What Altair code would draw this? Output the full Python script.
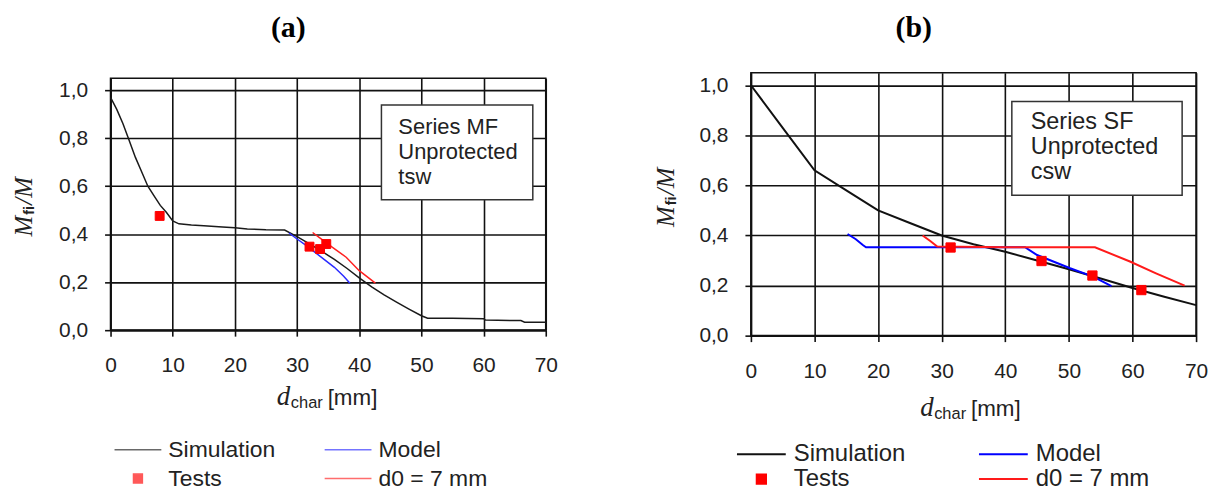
import altair as alt
import pandas as pd

# legend order (filled column by column): Simulation, Tests | Model, d0 = 7 mm
SERIES = ["Simulation", "Tests", "Model", "d0 = 7 mm"]

# ---------------- panel (a) data ----------------
A_SIM_X = [0, 1, 2, 3, 4, 5, 6, 7, 8, 9, 10, 11, 13, 15, 18, 20, 22, 25, 28, 30, 32, 34, 36, 38, 40,
           42, 44, 46, 48, 50, 51, 55, 60, 60.3, 66, 66.6, 70]
A_SIM_Y = [0.97, 0.92, 0.86, 0.79, 0.72, 0.66, 0.60, 0.56, 0.52, 0.49, 0.455, 0.443, 0.438, 0.435, 0.43,
           0.427, 0.422, 0.418, 0.417, 0.39, 0.36, 0.328, 0.295, 0.258, 0.218, 0.18, 0.147, 0.117, 0.088,
           0.06, 0.05, 0.05, 0.048, 0.042, 0.04, 0.033, 0.033]
A_MOD_X = [28.7, 30, 31.5, 33, 34.5, 36, 37.5, 38.5]
A_MOD_Y = [0.405, 0.38, 0.352, 0.322, 0.292, 0.262, 0.225, 0.196]
A_RED_X = [32.5, 33.6, 35.7, 37.9, 40, 42.6]
A_RED_Y = [0.407, 0.386, 0.345, 0.304, 0.248, 0.196]
A_TST_X = [7.9, 32.0, 33.7, 34.7]
A_TST_Y = [0.476, 0.348, 0.338, 0.359]

# ---------------- panel (b) data ----------------
B_SIM_X = [0, 5, 10, 15, 20, 25, 30, 35, 40, 45, 50, 55, 60, 65, 70]
B_SIM_Y = [1.0, 0.83, 0.66, 0.58, 0.50, 0.45, 0.40, 0.365, 0.335, 0.30, 0.265, 0.228, 0.19, 0.155, 0.122]
B_MOD_X = [15.2, 16.5, 17.6, 18.1, 30, 43.1, 45, 50.2, 53.8, 56.7]
B_MOD_Y = [0.406, 0.385, 0.362, 0.353, 0.353, 0.353, 0.322, 0.269, 0.236, 0.198]
B_RED_X = [27, 28.2, 29.3, 40, 54.1, 59.6, 63.7, 68.2]
B_RED_Y = [0.4, 0.378, 0.356, 0.353, 0.353, 0.296, 0.249, 0.2]
B_TST_X = [31.4, 45.7, 53.7, 61.4]
B_TST_Y = [0.352, 0.298, 0.24, 0.182]

X_TICKS = list(range(0, 71, 5))
Y_TICKS = [round(i * 0.1, 1) for i in range(11)]

SANS = "Liberation Sans"
SERIF = "Liberation Serif"
INK = "#111111"
TXT = "#222222"
SQUARE = "M-0.19,-0.19H0.19V0.19H-0.19Z"


def txt_layer(label, **mk):
    return alt.Chart(pd.DataFrame({"t": [label]})).mark_text(**mk).encode(text="t:N")


def make_panel(p):
    W, H = p["W"], p["H"]
    frames = []
    for xs, ys, name in [(p["sim_x"], p["sim_y"], "Simulation"),
                         (p["mod_x"], p["mod_y"], "Model"),
                         (p["red_x"], p["red_y"], "d0 = 7 mm")]:
        frames.append(pd.DataFrame({"x": xs, "y": ys, "series": name}))
    lines = pd.concat(frames, ignore_index=True)
    lines["i"] = range(len(lines))
    tests = pd.DataFrame({"x": p["tst_x"], "y": p["tst_y"], "series": "Tests"})

    xscale = alt.Scale(domain=[0, 70], nice=False, zero=False)
    yscale = alt.Scale(domain=[0, 1.05], nice=False)
    xaxis = alt.Axis(values=X_TICKS, title=None,
                     labelExpr="datum.value % 10 === 0 ? format(datum.value, 'd') : ''",
                     gridOpacity={"condition": {"test": "datum.value % 10 === 0", "value": 1}, "value": 0},
                     labelFont=SANS, labelFontSize=p["tick_fs"], labelColor=TXT,
                     labelPadding=p["xpad"], tickSize=6, labelFlush=False, labelOverlap=False)
    yaxis = alt.Axis(values=Y_TICKS, title=None,
                     labelExpr="round(datum.value * 10) % 2 === 0 ? replace(format(datum.value, '.1f'), '.', ',') : ''",
                     gridOpacity={"condition": {"test": "round(datum.value * 10) % 2 === 0", "value": 1}, "value": 0},
                     labelFont=SANS, labelFontSize=p["tick_fs"], labelColor=TXT,
                     labelPadding=p["ypad"], tickSize=6, labelFlush=False, labelOverlap=False)

    legend = alt.Legend(
        title=None, orient="none", legendX=p["legX"], legendY=p["legY"], columns=2,
        symbolSize=p["sym"] ** 2, clipHeight=20, symbolOpacity=p["leg_op"],
        rowPadding=p["rowpad"], columnPadding=p["colpad"], labelOffset=p["laboff"],
        labelFont=SANS, labelFontSize=p["leg_fs"], labelColor=TXT, symbolStrokeWidth=p["lw"],
    )
    stroke_scale = alt.Scale(domain=SERIES, range=p["colors"])
    fill_scale = alt.Scale(domain=SERIES, range=["transparent", "#ff0000", "transparent", "transparent"])
    shape_scale = alt.Scale(domain=SERIES, range=["stroke", SQUARE, "stroke", "stroke"])

    line_layer = alt.Chart(lines).mark_line(strokeWidth=p["lw"]).encode(
        x=alt.X("x:Q", scale=xscale, axis=xaxis),
        y=alt.Y("y:Q", scale=yscale, axis=yaxis),
        stroke=alt.Stroke("series:N", scale=stroke_scale, legend=legend),
        order="i:Q",
    )
    pts = alt.Chart(tests).mark_point(size=p["sym"] ** 2, opacity=1, strokeWidth=1).encode(
        x=alt.X("x:Q", scale=xscale), y=alt.Y("y:Q", scale=yscale),
        shape=alt.Shape("series:N", scale=shape_scale, legend=legend),
        fill=alt.Fill("series:N", scale=fill_scale, legend=legend),
        stroke=alt.Stroke("series:N", scale=stroke_scale, legend=legend),
    )

    bx = p["box"]
    box = alt.Chart(pd.DataFrame({"k": [0]})).mark_rect(
        fill="white", stroke="#333333", strokeWidth=1.5).encode(
        x=alt.value(bx[0]), x2=alt.value(bx[1]), y=alt.value(bx[2]), y2=alt.value(bx[3]))
    boxtext = alt.Chart(pd.DataFrame({"k": [0]})).mark_text(
        align="left", baseline="alphabetic", font=SANS, fontSize=p["box_fs"], color=TXT,
        lineHeight=p["box_lh"]).encode(
        x=alt.value(p["box_tx"]), y=alt.value(p["box_ty"]), text=alt.value(p["box_lines"]))

    # x-axis title: d_char [mm]
    xt = p["xt"]
    yb = H + xt["dy"]
    xt_d = txt_layer("d", align="left", baseline="alphabetic", font=SERIF, fontStyle="italic",
                     fontSize=27, color=TXT).encode(x=alt.value(xt["x"]), y=alt.value(yb))
    xt_c = txt_layer("char", align="left", baseline="alphabetic", font=SANS,
                     fontSize=16.5, color=TXT).encode(x=alt.value(xt["x"] + 14), y=alt.value(yb + 3))
    xt_m = txt_layer("[mm]", align="left", baseline="alphabetic", font=SANS,
                     fontSize=22.5, color=TXT).encode(x=alt.value(xt["x"] + 51), y=alt.value(yb))

    # y-axis title: M_fi / M (rotated)
    yt = p["yt"]
    yt_m1 = txt_layer("M", align="left", baseline="middle", angle=270, font=SERIF, fontStyle="italic",
                      fontSize=25, color=TXT).encode(x=alt.value(yt["x"]), y=alt.value(yt["y0"]))
    yt_fi = txt_layer("fi", align="left", baseline="middle", angle=270, font=SANS, fontWeight="bold",
                      fontSize=14, color=TXT).encode(x=alt.value(yt["x"] + 6), y=alt.value(yt["y0"] - 22))
    yt_m2 = txt_layer("/M", align="left", baseline="middle", angle=270, font=SERIF, fontStyle="italic",
                      fontSize=25, color=TXT).encode(x=alt.value(yt["x"]), y=alt.value(yt["y0"] - 32))

    return alt.layer(line_layer, pts, box, boxtext, xt_d, xt_c, xt_m, yt_m1, yt_fi, yt_m2).properties(
        width=W, height=H,
        title=alt.TitleParams(p["title"], font=SERIF, fontSize=30, fontWeight="bold", color="black",
                              frame="group", anchor="middle", dx=p["tdx"], offset=p["toff"]),
    )


panel_a = make_panel(dict(
    W=437, H=253, sim_x=A_SIM_X, sim_y=A_SIM_Y, mod_x=A_MOD_X, mod_y=A_MOD_Y,
    red_x=A_RED_X, red_y=A_RED_Y, tst_x=A_TST_X, tst_y=A_TST_Y,
    colors=["#1a1a1a", "#ff0000", "#2a2aff", "#ff2020"], lw=1.5, leg_op=0.65,
    tick_fs=21, xpad=19, ypad=17,
    legX=3, legY=363, rowpad=6, colpad=48, laboff=6, leg_fs=23, sym=47,
    box=[272, 424, 27, 122], box_tx=289, box_ty=56, box_fs=22, box_lh=25,
    box_lines=["Series MF", "Unprotected", "tsw"],
    xt=dict(x=167, dy=75),
    yt=dict(x=-87, y0=159),
    title="(a)", tdx=-40, toff=35,
))

panel_b = make_panel(dict(
    W=447, H=264, sim_x=B_SIM_X, sim_y=B_SIM_Y, mod_x=B_MOD_X, mod_y=B_MOD_Y,
    red_x=B_RED_X, red_y=B_RED_Y, tst_x=B_TST_X, tst_y=B_TST_Y,
    colors=["#111111", "#ff0000", "#0000ff", "#ff1a1a"], lw=2, leg_op=1,
    tick_fs=21, xpad=19, ypad=17,
    legX=-15, legY=373, rowpad=1, colpad=72, laboff=7, leg_fs=24, sym=49,
    box=[262, 433, 29, 123], box_tx=281, box_ty=57, box_fs=23.5, box_lh=25,
    box_lines=["Series SF", "Unprotected", "csw"],
    xt=dict(x=170, dy=81),
    yt=dict(x=-85, y0=155),
    title="(b)", tdx=-60, toff=30,
))

chart = alt.hconcat(panel_a, panel_b, spacing=206, center=True, bounds="flush").resolve_scale(
    stroke="independent", fill="independent", shape="independent",
    x="independent", y="independent"
).properties(
    padding={"left": 11, "top": 11, "right": 5, "bottom": 5},
    background="white",
).configure_view(
    stroke=INK, strokeWidth=1.6
).configure_axis(
    gridColor=INK, gridWidth=1.6, domainColor=INK, domainWidth=1.6,
    tickColor=INK, tickWidth=1.6,
)

chart.save("out.html", embed_options={"renderer": "svg", "actions": False})
